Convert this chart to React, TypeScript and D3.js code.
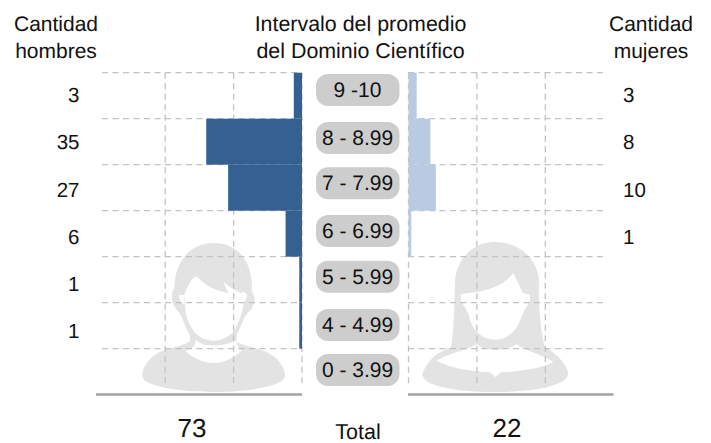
import * as d3 from 'd3'

const intervals = ['9 -10', '8 - 8.99', '7 - 7.99', '6 - 6.99', '5 - 5.99', '4 - 4.99', '0 - 3.99']
const hombres = [3, 35, 27, 6, 1, 1, 0]
const mujeres = [3, 8, 10, 1, 0, 0, 0]
const gridTicks = [25, 50]
const totalHombres = 73
const totalMujeres = 22

// the pills are not quite centred on their rows in the original
const pillNudge = [-5.7, -3.7, -4.4, -2.7, -3, -0.7, -1.7]

const FONT = '"Liberation Sans", Arial, sans-serif'
const GRID = '#c2c2c2'
const ICON = '#e3e3e3'

const yBand = d3.scaleBand().domain(intervals).range([72.7, 394.7])
const yLabel = d3.scaleBand().domain(intervals).range([71.5, 402])
const xH = d3.scaleLinear().domain([0, 75]).range([302, 96.8])
const xM = d3.scaleLinear().domain([0, 75]).range([408.5, 613.7])

const manBody = 'M235,15 C165,15 120,70 118,150 C105,165 110,200 125,215 C135,225 140,235 145,250 C150,265 160,280 165,295 L165,310 C130,330 90,330 60,350 C35,368 20,395 22,415 C25,445 130,462 235,462 C340,462 445,445 450,415 C452,390 430,360 400,345 C370,330 330,325 305,312 L305,290 C320,265 325,240 335,228 C360,210 365,175 350,160 C355,100 330,15 235,15 Z'
const manFace = 'M185,115 C205,135 225,155 280,165 L264,130 C280,145 310,165 332,170 C325,200 320,240 300,275 C280,300 255,308 235,308 C210,308 185,295 170,270 C155,245 150,225 150,195 L148,170 C160,140 170,120 185,115 Z'
const manEars = 'M134,170 C130,180 136,194 148,198 L148,172 Z M322,160 L336,168 C338,180 332,190 322,196 Z'
const manCollar = 'M150,338 C170,332 182,325 182,305 C200,322 220,322 235,322 C255,322 285,318 305,305 C305,320 310,332 320,338 C290,365 260,375 235,375 C205,375 175,360 150,338 Z'
const womanBody = 'M240,12 C165,12 122,75 120,130 C118,180 118,280 108,328 C80,340 40,355 22,410 C25,445 130,462 240,462 C350,462 460,445 460,405 C450,370 420,345 390,328 C375,280 370,180 372,130 C370,70 320,12 240,12 Z'
const womanFace = 'M295,105 C270,140 220,160 160,165 L137,168 L138,190 C150,210 160,220 165,245 C175,280 205,305 240,305 C275,305 305,280 318,240 C325,220 335,205 345,190 L345,170 L325,165 C315,150 305,125 295,105 Z'
const womanCollar = 'M65,368 C100,345 150,340 185,318 C205,335 225,335 245,335 C270,335 290,330 305,318 C330,340 385,350 415,372 C385,390 320,400 258,403 L240,417 L225,403 C160,400 100,388 65,368 Z'

function Side({ x, values, color, gridFrom, gridTo }: any) {
    const rowLines = yBand.domain().map(d => yBand(d) as number)
    const xTicks = [0, ...gridTicks]
    return (
        <g>
            {rowLines.map((y, i) => (
                <line key={i} x1={gridFrom} x2={gridTo} y1={y} y2={y} stroke={GRID} strokeWidth={1.3} strokeDasharray="6 4.5" />
            ))}
            {xTicks.map(t => (
                <line key={t} x1={x(t)} x2={x(t)} y1={72.7} y2={388} stroke={GRID} strokeWidth={1.3} strokeDasharray="6 4.5" />
            ))}
            {values.map((v: number, i: number) => (
                <rect
                    key={i}
                    x={Math.min(x(0), x(v))}
                    y={yBand(intervals[i])}
                    width={Math.abs(x(v) - x(0))}
                    height={yBand.bandwidth()}
                    fill={color}
                />
            ))}
        </g>
    )
}

function Counts({ values, x, anchor }: any) {
    return values.map((v: number, i: number) => v > 0 && (
        <text
            key={i}
            x={x}
            y={(yLabel(intervals[i]) as number) + yLabel.bandwidth() / 2 + 7}
            textAnchor={anchor}
            fontSize={20.5}
        >
            {v}
        </text>
    ))
}

export default function App() {
    return (
        <svg
            width={711}
            height={443}
            fontFamily={FONT}
            fill="#111"
            textRendering="geometricPrecision"
            style={{ position: 'absolute', left: 0, top: 0 }}
        >
            <g transform="translate(135,238) scale(0.3333)">
                <path d={manBody} fill={ICON} />
                <path d={manFace} fill="#fff" />
                <path d={manEars} fill="#fff" />
                <path d={manCollar} fill="#fff" />
            </g>
            <g transform="translate(415,238) scale(0.3333)">
                <path d={womanBody} fill={ICON} />
                <path d={womanFace} fill="#fff" />
                <path d={womanCollar} fill="#fff" />
            </g>

            <Side x={xH} values={hombres} color="#356192" gridFrom={102} gridTo={301} />
            <Side x={xM} values={mujeres} color="#b8cbe3" gridFrom={408} gridTo={606} />

            <line x1={96} x2={302} y1={394.5} y2={394.5} stroke="#a3a3a3" strokeWidth={2.5} />
            <line x1={408} x2={613.5} y1={394.5} y2={394.5} stroke="#a3a3a3" strokeWidth={2.5} />

            {intervals.map((d, i) => {
                const cy = (yBand(d) as number) + yBand.bandwidth() / 2 + pillNudge[i]
                return (
                    <g key={d}>
                        <rect x={316} y={cy - 16} width={83.5} height={32} rx={12} fill="#cdcdcd" />
                        <text x={357.5} y={cy + 7} textAnchor="middle" fontSize={21}>{d}</text>
                    </g>
                )
            })}

            <Counts values={hombres} x={79.5} anchor="end" />
            <Counts values={mujeres} x={623} anchor="start" />

            <g fontSize={21} textAnchor="middle">
                <text x={56} y={31}>Cantidad</text>
                <text x={56} y={58}>hombres</text>
                <text x={360.5} y={31} fontSize={21.4}>Intervalo del promedio</text>
                <text x={360.5} y={58} fontSize={21.4}>del Dominio Científico</text>
                <text x={651} y={31}>Cantidad</text>
                <text x={651} y={58}>mujeres</text>
            </g>

            <text x={192} y={437.4} textAnchor="middle" fontSize={26}>{totalHombres}</text>
            <text x={358} y={439} textAnchor="middle" fontSize={21.5}>Total</text>
            <text x={507} y={437.4} textAnchor="middle" fontSize={26}>{totalMujeres}</text>
        </svg>
    )
}
